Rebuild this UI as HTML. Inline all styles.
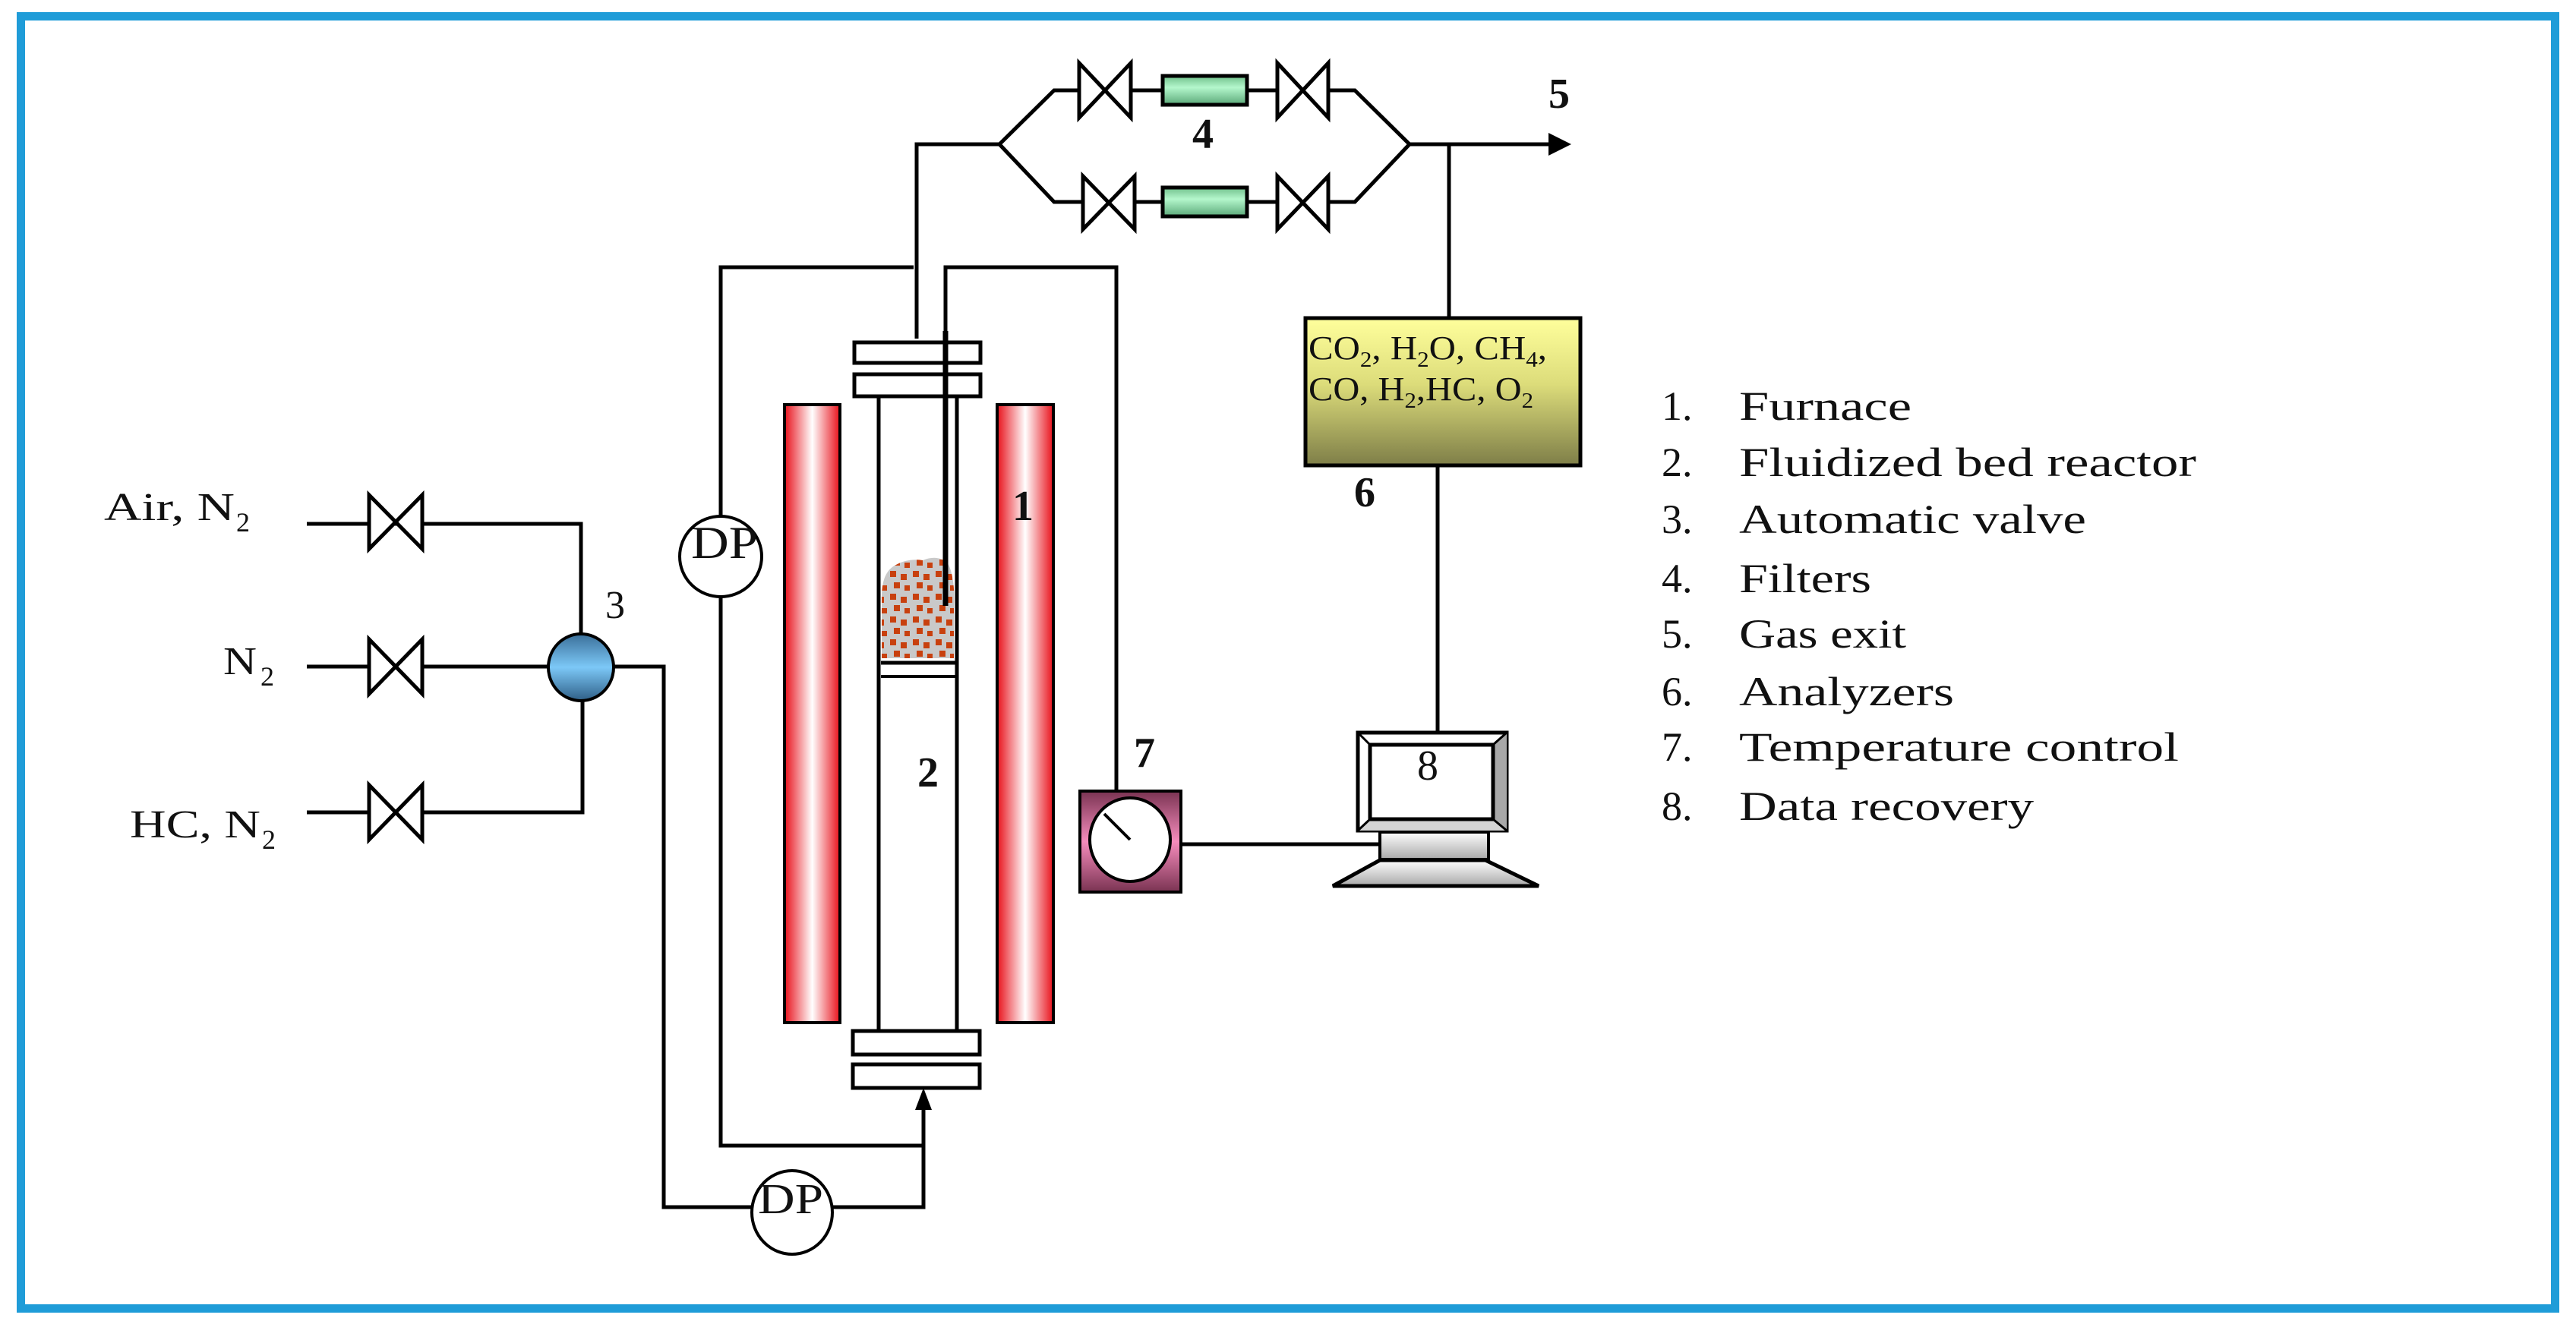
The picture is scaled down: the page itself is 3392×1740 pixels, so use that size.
<!DOCTYPE html>
<html><head><meta charset="utf-8"><style>
html,body{margin:0;padding:0;background:#fff}
svg{display:block}
text{font-family:"Liberation Serif",serif;fill:#111}
</style></head><body>
<svg width="3392" height="1740" viewBox="0 0 3392 1740" xmlns="http://www.w3.org/2000/svg">
<defs>
<linearGradient id="red" x1="0" x2="1" y1="0" y2="0">
<stop offset="0" stop-color="#e8101a"/><stop offset="0.5" stop-color="#ffffff"/><stop offset="1" stop-color="#e8101a"/></linearGradient>
<linearGradient id="yel" x1="0" x2="0" y1="0" y2="1">
<stop offset="0" stop-color="#ffff9c"/><stop offset="0.45" stop-color="#dcdc7a"/><stop offset="1" stop-color="#7e7e48"/></linearGradient>
<linearGradient id="grn" x1="0" x2="0" y1="0" y2="1">
<stop offset="0" stop-color="#6fbf8a"/><stop offset="0.4" stop-color="#b4f7cc"/><stop offset="1" stop-color="#5aa878"/></linearGradient>
<linearGradient id="blu" x1="0" x2="0" y1="0" y2="1">
<stop offset="0" stop-color="#3a6f99"/><stop offset="0.5" stop-color="#7cc8f7"/><stop offset="1" stop-color="#2f5f87"/></linearGradient>
<linearGradient id="pink" x1="0" x2="0" y1="0" y2="1">
<stop offset="0" stop-color="#7a3352"/><stop offset="0.5" stop-color="#f58cbc"/><stop offset="1" stop-color="#7a3352"/></linearGradient>
<linearGradient id="gry" x1="0" x2="0" y1="0" y2="1">
<stop offset="0" stop-color="#ffffff"/><stop offset="1" stop-color="#a8a8a8"/></linearGradient>
<pattern id="bed" width="30" height="30" patternUnits="userSpaceOnUse">
<rect width="30" height="30" fill="#c9c9c9"/>
<rect x="2" y="2" width="8" height="8" fill="#c8400e"/><rect x="16" y="6" width="8" height="8" fill="#c8400e"/>
<rect x="7" y="17" width="8" height="8" fill="#c8400e"/><rect x="21" y="21" width="7" height="7" fill="#c8400e"/></pattern>
</defs>

<rect x="27.5" y="21.5" width="3337" height="1702" fill="none" stroke="#1f9cd8" stroke-width="11"/>

<g stroke="#000" stroke-width="5" fill="none">
<path d="M404 690H765V836"/>
<path d="M404 878H722"/>
<path d="M404 1070H767V922"/>
<path d="M808 878H874V1590H998"/>
<path d="M1089 1590H1216V1461"/>
<path d="M949 680V352H1203"/>
<path d="M949 786V1509H1216"/>
<path d="M1207 446V190H1316L1388 119H1421M1489 119H1531M1642 119H1682M1749 119H1784L1856 190H2039"/>
<path d="M1316 190L1388 266H1426M1494 266H1531M1642 266H1682M1749 266H1784L1856 190"/>
<path d="M1908 190V417"/>
<path d="M1893 614V963"/>
<path d="M1245 436V352H1470V1042"/>
<path d="M1555 1112H1817"/>
<path d="M1157 522V1358M1260 522V1358"/>
<path d="M1160 873H1258"/>
<path d="M1160 891H1258" stroke-width="4"/>
</g>

<polygon points="2039,175 2069,190 2039,205" fill="#000"/>
<polygon points="1216,1433 1205,1462 1227,1462" fill="#000"/>

<g stroke="#000" stroke-width="5" fill="#fff">
<path d="M486 652L556 723V652L486 723Z"/>
<path d="M486 842L556 914V842L486 914Z"/>
<path d="M486 1034L556 1106V1034L486 1106Z"/>
<path d="M1421 83L1489 155V83L1421 155Z"/>
<path d="M1682 83L1749 155V83L1682 155Z"/>
<path d="M1426 232L1494 302V232L1426 302Z"/>
<path d="M1682 232L1749 302V232L1682 302Z"/>
</g>

<rect x="1531" y="100" width="111" height="38" fill="url(#grn)" stroke="#000" stroke-width="5"/>
<rect x="1531" y="247" width="111" height="38" fill="url(#grn)" stroke="#000" stroke-width="5"/>

<ellipse cx="765" cy="879" rx="43" ry="44" fill="url(#blu)" stroke="#000" stroke-width="4"/>

<ellipse cx="949" cy="733" rx="54" ry="53" fill="#fff" stroke="#000" stroke-width="4"/>
<ellipse cx="1043" cy="1597" rx="53" ry="55" fill="#fff" stroke="#000" stroke-width="4"/>
<text x="910" y="735" font-size="60" textLength="88" lengthAdjust="spacingAndGlyphs">DP</text>
<text x="998" y="1598" font-size="56" textLength="86" lengthAdjust="spacingAndGlyphs">DP</text>

<rect x="1033" y="533" width="73" height="814" fill="url(#red)" stroke="#000" stroke-width="4"/>
<rect x="1313" y="533" width="74" height="814" fill="url(#red)" stroke="#000" stroke-width="4"/>

<g stroke="#000" stroke-width="5" fill="#fff">
<rect x="1125" y="451" width="166" height="27"/>
<rect x="1125" y="493" width="166" height="29"/>
<rect x="1123" y="1358" width="167" height="31"/>
<rect x="1123" y="1402" width="167" height="31"/>
</g>

<path d="M1161 867V790Q1160 755 1178 745Q1195 735 1215 738Q1235 730 1248 742Q1258 760 1256 800V867Z" fill="url(#bed)"/>
<path d="M1245 436V798" stroke="#000" stroke-width="7"/>

<rect x="1719" y="419" width="362" height="194" fill="url(#yel)" stroke="#000" stroke-width="5"/>
<text x="1723" y="473" font-size="44" textLength="314" lengthAdjust="spacingAndGlyphs">CO<tspan font-size="28" dy="10">2</tspan><tspan dy="-10">, H</tspan><tspan font-size="28" dy="10">2</tspan><tspan dy="-10">O, CH</tspan><tspan font-size="28" dy="10">4</tspan><tspan dy="-10">,</tspan></text>
<text x="1723" y="527" font-size="44" textLength="296" lengthAdjust="spacingAndGlyphs">CO, H<tspan font-size="28" dy="10">2</tspan><tspan dy="-10">,HC, O</tspan><tspan font-size="28" dy="10">2</tspan></text>

<rect x="1422" y="1042" width="133" height="133" fill="url(#pink)" stroke="#000" stroke-width="4"/>
<ellipse cx="1488" cy="1106" rx="53" ry="55" fill="#fff" stroke="#000" stroke-width="4"/>
<path d="M1454 1072L1488 1106" stroke="#000" stroke-width="4"/>

<rect x="1788" y="965" width="196" height="129" fill="#fff" stroke="#000" stroke-width="5"/>
<path d="M1966 981L1984 965V1094L1966 1079Z" fill="#a8a8a8"/>
<path d="M1804 1079H1966L1984 1094H1788Z" fill="#d4d4d4"/>
<path d="M1804 981H1966V1079H1804Z" fill="#fff" stroke="#000" stroke-width="5"/>
<path d="M1788 965L1804 981M1984 965L1966 981M1788 1094L1804 1079M1984 1094L1966 1079" stroke="#000" stroke-width="3"/>
<rect x="1817" y="1096" width="143" height="36" fill="url(#gry)" stroke="#000" stroke-width="4"/>
<path d="M1817 1133H1956L2026 1167H1755Z" fill="url(#gry)" stroke="#000" stroke-width="5"/>

<text x="137" y="685" font-size="52" textLength="172" lengthAdjust="spacingAndGlyphs">Air, N</text>
<text x="311" y="700" font-size="36">2</text>
<text x="294" y="888" font-size="52" textLength="44" lengthAdjust="spacingAndGlyphs">N</text>
<text x="343" y="903" font-size="36">2</text>
<text x="171" y="1103" font-size="52" textLength="172" lengthAdjust="spacingAndGlyphs">HC, N</text>
<text x="345" y="1118" font-size="36">2</text>

<text x="797" y="814" font-size="52">3</text>
<g font-weight="bold" font-size="56">
<text x="1333" y="685">1</text>
<text x="1208" y="1036">2</text>
<text x="1493" y="1010">7</text>
<text x="1570" y="195">4</text>
<text x="2039" y="142">5</text>
<text x="1783" y="667">6</text>
</g>
<text x="1866" y="1027" font-size="56">8</text>

<g font-size="54">
<text x="2188" y="553">1.</text><text x="2290" y="553" textLength="227" lengthAdjust="spacingAndGlyphs">Furnace</text>
<text x="2188" y="627">2.</text><text x="2290" y="627" textLength="602" lengthAdjust="spacingAndGlyphs">Fluidized bed reactor</text>
<text x="2188" y="702">3.</text><text x="2290" y="702" textLength="457" lengthAdjust="spacingAndGlyphs">Automatic valve</text>
<text x="2188" y="780">4.</text><text x="2290" y="780" textLength="174" lengthAdjust="spacingAndGlyphs">Filters</text>
<text x="2188" y="853">5.</text><text x="2290" y="853" textLength="220" lengthAdjust="spacingAndGlyphs">Gas exit</text>
<text x="2188" y="929">6.</text><text x="2290" y="929" textLength="283" lengthAdjust="spacingAndGlyphs">Analyzers</text>
<text x="2188" y="1002">7.</text><text x="2290" y="1002" textLength="579" lengthAdjust="spacingAndGlyphs">Temperature control</text>
<text x="2188" y="1080">8.</text><text x="2290" y="1080" textLength="388" lengthAdjust="spacingAndGlyphs">Data recovery</text>
</g>
</svg>
</body></html>
